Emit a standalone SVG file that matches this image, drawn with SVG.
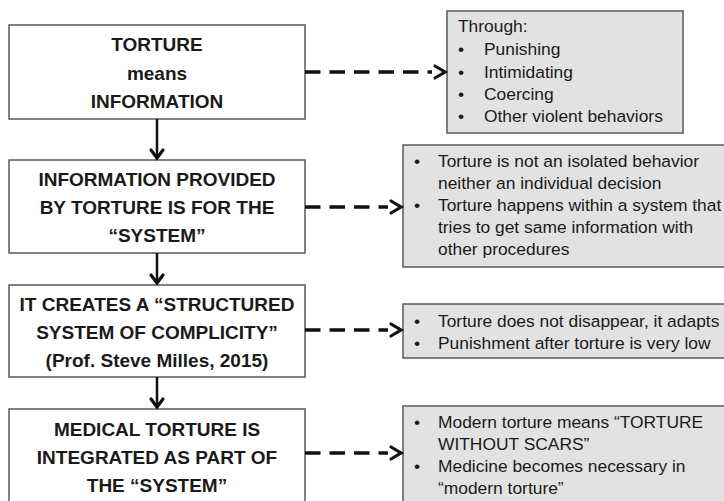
<svg xmlns="http://www.w3.org/2000/svg" width="724" height="501" viewBox="0 0 724 501">
<style>
.bg{fill:#ffffff}
.lbox{fill:#ffffff;stroke:#5a5a5a;stroke-width:1.5}
.rbox{fill:#e2e2e2;stroke:#5a5a5a;stroke-width:1.5}
.bt{font-family:"Liberation Sans",Arial,sans-serif;font-weight:bold;font-size:19px;fill:#1a1a1a;text-anchor:middle}
.rt{font-family:"Liberation Sans",Arial,sans-serif;font-size:17.4px;fill:#1a1a1a}
.dash{stroke:#111;stroke-width:3.5;stroke-dasharray:15.5 9;fill:none}
.head{stroke:#111;stroke-width:3.2;fill:none;stroke-linecap:round;stroke-linejoin:miter}
.vline{stroke:#111;stroke-width:2.5;fill:none}
</style>
<rect class="bg" x="0" y="0" width="724" height="501"/>
<g id="n1">
<rect class="lbox" x="9" y="25" width="296" height="94"/>
<text class="bt" x="157" y="51">TORTURE</text>
<text class="bt" x="157" y="80">means</text>
<text class="bt" x="157" y="108">INFORMATION</text>
</g>
<g id="n2">
<rect class="lbox" x="9" y="160" width="296" height="93"/>
<text class="bt" x="157" y="186">INFORMATION PROVIDED</text>
<text class="bt" x="157" y="214">BY TORTURE IS FOR THE</text>
<text class="bt" x="157" y="242">“SYSTEM”</text>
</g>
<g id="n3">
<rect class="lbox" x="9" y="285" width="296" height="92"/>
<text class="bt" x="157" y="311">IT CREATES A “STRUCTURED</text>
<text class="bt" x="157" y="339">SYSTEM OF COMPLICITY”</text>
<text class="bt" x="157" y="367">(Prof. Steve Milles, 2015)</text>
</g>
<g id="n4">
<rect class="lbox" x="9" y="409" width="296" height="100"/>
<text class="bt" x="157" y="436">MEDICAL TORTURE IS</text>
<text class="bt" x="157" y="464">INTEGRATED AS PART OF</text>
<text class="bt" x="157" y="492">THE “SYSTEM”</text>
</g>
<g id="r1">
<rect class="rbox" x="447" y="11" width="236" height="122"/>
<text class="rt" x="458" y="32">Through:</text>
<text class="rt" x="458" y="55">•</text><text class="rt" x="484" y="55">Punishing</text>
<text class="rt" x="458" y="78">•</text><text class="rt" x="484" y="78">Intimidating</text>
<text class="rt" x="458" y="100">•</text><text class="rt" x="484" y="100">Coercing</text>
<text class="rt" x="458" y="122">•</text><text class="rt" x="484" y="122">Other violent behaviors</text>
</g>
<g id="r2">
<rect class="rbox" x="403" y="145" width="330" height="122"/>
<text class="rt" x="414" y="167">•</text><text class="rt" x="438" y="167">Torture is not an isolated behavior</text>
<text class="rt" x="438" y="189">neither an individual decision</text>
<text class="rt" x="414" y="211">•</text><text class="rt" x="438" y="211">Torture happens within a system that</text>
<text class="rt" x="438" y="233">tries to get same information with</text>
<text class="rt" x="438" y="255">other procedures</text>
</g>
<g id="r3">
<rect class="rbox" x="403" y="304" width="330" height="54"/>
<text class="rt" x="414" y="327">•</text><text class="rt" x="438" y="327">Torture does not disappear, it adapts</text>
<text class="rt" x="414" y="349">•</text><text class="rt" x="438" y="349">Punishment after torture is very low</text>
</g>
<g id="r4">
<rect class="rbox" x="403" y="406" width="330" height="110"/>
<text class="rt" x="414" y="428">•</text><text class="rt" x="438" y="428">Modern torture means “TORTURE</text>
<text class="rt" x="438" y="450">WITHOUT SCARS”</text>
<text class="rt" x="414" y="472">•</text><text class="rt" x="438" y="472">Medicine becomes necessary in</text>
<text class="rt" x="438" y="494">“modern torture”</text>
</g>
<g id="connectors">
<line class="vline" x1="157" y1="119" x2="157" y2="158"/>
<polyline class="head" points="151,150 157,158 163,150"/>
<line class="vline" x1="157" y1="253" x2="157" y2="283"/>
<polyline class="head" points="151,275 157,283 163,275"/>
<line class="vline" x1="157" y1="377" x2="157" y2="407"/>
<polyline class="head" points="151,399 157,407 163,399"/>
<line class="dash" x1="305" y1="72" x2="432" y2="72"/>
<polyline class="head" points="435,66 445,72 435,78"/>
<line class="dash" x1="305" y1="207" x2="388" y2="207"/>
<polyline class="head" points="391,201 401,207 391,213"/>
<line class="dash" x1="305" y1="330" x2="388" y2="330"/>
<polyline class="head" points="391,324 401,330 391,336"/>
<line class="dash" x1="305" y1="453" x2="388" y2="453"/>
<polyline class="head" points="391,447 401,453 391,459"/>
</g>
</svg>
